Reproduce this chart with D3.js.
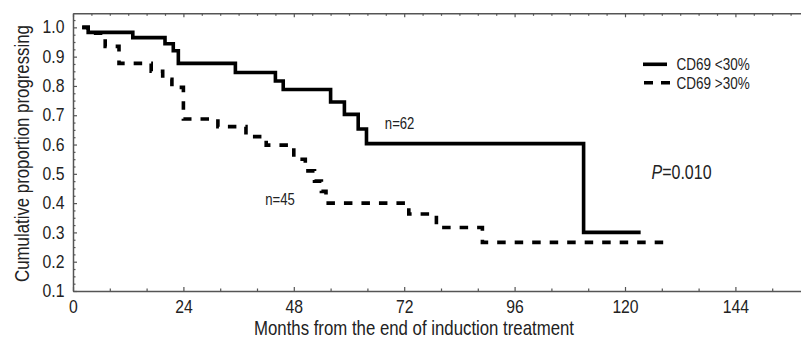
<!DOCTYPE html>
<html><head><meta charset="utf-8">
<script src="https://cdn.jsdelivr.net/npm/d3@7"></script>
<style>
html,body{margin:0;padding:0;background:#fff;}
svg text{font-family:"Liberation Sans",Arial,sans-serif;fill:#222;}
</style></head>
<body><svg id="c" width="801" height="338"></svg>
<script>
// Data (months, cumulative proportion progressing)
const lowTimes  = [2, 3.3, 13, 20, 21.8, 22.9, 35.3, 44, 45.7, 56, 59, 62, 63.8, 111, 123.4];
const lowValues = [1.0, 0.983, 0.965, 0.944, 0.92, 0.877, 0.846, 0.817, 0.788, 0.745, 0.703, 0.653, 0.603, 0.30, 0.30];
const highTimes  = [2, 3.3, 7, 10, 17, 19.5, 21.5, 24, 31.5, 37.6, 42, 48, 50.5, 52.5, 54, 55, 73, 79, 89, 129.6];
const highValues = [1.0, 0.98, 0.935, 0.877, 0.85, 0.823, 0.795, 0.687, 0.661, 0.627, 0.598, 0.55, 0.51, 0.475, 0.44, 0.40, 0.363, 0.317, 0.266, 0.266];
const seriesNames = ["CD69 <30%", "CD69 >30%"];
const xMajorTicks = [0, 24, 48, 72, 96, 120, 144];
const yMajorTicks = [0.1, 0.2, 0.3, 0.4, 0.5, 0.6, 0.7, 0.8, 0.9, 1.0];
const annotations = [{text:"n=62", t:71, v:0.673}, {text:"n=45", t:45, v:0.414}];
const pText = "0.010";

const svg = d3.select("#c");
const x = d3.scaleLinear().domain([0, 158.26]).range([73, 801]);
const y = d3.scaleLinear().domain([0.1, 1.048]).range([291, 13.3]);
const axisColor = "#555";

// condensed look: horizontally squeeze text around its anchor point
function squeeze(sel, sx){
  sel.each(function(){
    const t = d3.select(this);
    const tx = +t.attr("x") || 0, ty = +t.attr("y") || 0;
    const prev = t.attr("transform") || "";
    t.attr("x", 0).attr("y", 0).attr("transform", `${prev} translate(${tx},${ty}) scale(${sx},1)`);
  });
}
function styleAxis(g){
  g.selectAll("path.domain").attr("stroke", axisColor).attr("stroke-width", 1.5);
  g.selectAll(".tick line").attr("stroke", axisColor).attr("stroke-width", 1.2);
}

const xMinor = d3.range(0, 160, 8).filter(d => d % 24 !== 0);
const xTop = d3.range(0, 160, 4);
const yMinor = d3.range(0.1, 1.049, 0.025).filter(d => Math.abs(Math.round(d*10) - d*10) > 1e-6);

// bottom axis
const gx = svg.append("g").attr("transform", `translate(0,291)`)
  .call(d3.axisBottom(x).tickValues(xMajorTicks).tickFormat(d3.format("d")).tickSizeInner(-4).tickSizeOuter(0).tickPadding(9.5));
gx.selectAll("text").attr("font-size", 17.5).call(squeeze, 0.9);
styleAxis(gx);
const gxm = svg.append("g").attr("transform", `translate(0,291)`)
  .call(d3.axisBottom(x).tickValues(xMinor).tickFormat("").tickSizeInner(-2.5).tickSizeOuter(0));
gxm.select("path.domain").remove(); styleAxis(gxm);

// top axis
const gt = svg.append("g").attr("transform", `translate(0,13.3)`)
  .call(d3.axisTop(x).tickValues(xTop).tickFormat("").tickSizeInner(-2.5).tickSizeOuter(0));
styleAxis(gt);
gt.selectAll(".tick line").filter(d => d % 24 === 0).attr("y2", 4);

// left axis
const gy = svg.append("g").attr("transform", `translate(73,0)`)
  .call(d3.axisLeft(y).tickValues(yMajorTicks).tickFormat(d3.format(".1f")).tickSizeInner(-4).tickSizeOuter(0).tickPadding(8.5));
gy.selectAll("text").attr("font-size", 17.5).call(squeeze, 0.9);
styleAxis(gy);
const gym = svg.append("g").attr("transform", `translate(73,0)`)
  .call(d3.axisLeft(y).tickValues(yMinor).tickFormat("").tickSizeInner(-2.5).tickSizeOuter(0));
gym.select("path.domain").remove(); styleAxis(gym);

// axis titles
svg.append("text").attr("x", 414).attr("y", 335).attr("text-anchor", "middle")
  .attr("font-size", 20).text("Months from the end of induction treatment").call(squeeze, 0.84);
svg.append("text").attr("transform", "translate(29,153.5) rotate(-90) scale(0.82,1)").attr("text-anchor", "middle")
  .attr("font-size", 20.5).text("Cumulative proportion progressing");

// curves
const line = d3.line().x(d => x(d[0])).y(d => y(d[1])).curve(d3.curveStepAfter);
const low = lowTimes.map((t,i) => [t, lowValues[i]]);
const high = highTimes.map((t,i) => [t, highValues[i]]);
svg.append("path").datum(high).attr("d", line).attr("fill", "none").attr("stroke", "#000")
  .attr("stroke-width", 3.6).attr("stroke-dasharray", "8.5,9");
svg.append("path").datum(low).attr("d", line).attr("fill", "none").attr("stroke", "#000")
  .attr("stroke-width", 3.6);

// legend
const lg = svg.append("g");
lg.append("line").attr("x1", 643).attr("x2", 667).attr("y1", 64.3).attr("y2", 64.3)
  .attr("stroke", "#000").attr("stroke-width", 3.6);
lg.append("line").attr("x1", 644).attr("x2", 670).attr("y1", 82.7).attr("y2", 82.7)
  .attr("stroke", "#000").attr("stroke-width", 3.6).attr("stroke-dasharray", "9,8");
seriesNames.forEach((s,i) => {
  lg.append("text").attr("x", 676.5).attr("y", 64.3 + i*18.4 + 5.8)
    .attr("font-size", 16.5).text(s).call(squeeze, 0.82);
});

// annotations
annotations.forEach(a => {
  svg.append("text").attr("x", x(a.t)).attr("y", y(a.v) + 5.6)
    .attr("text-anchor", "middle").attr("font-size", 16).text(a.text).call(squeeze, 0.82);
});
const pt = svg.append("text").attr("x", 651.5).attr("y", 178.5).attr("font-size", 19.5);
pt.append("tspan").attr("font-style", "italic").text("P");
pt.append("tspan").text("=" + pText);
pt.call(squeeze, 0.82);
</script></body></html>
